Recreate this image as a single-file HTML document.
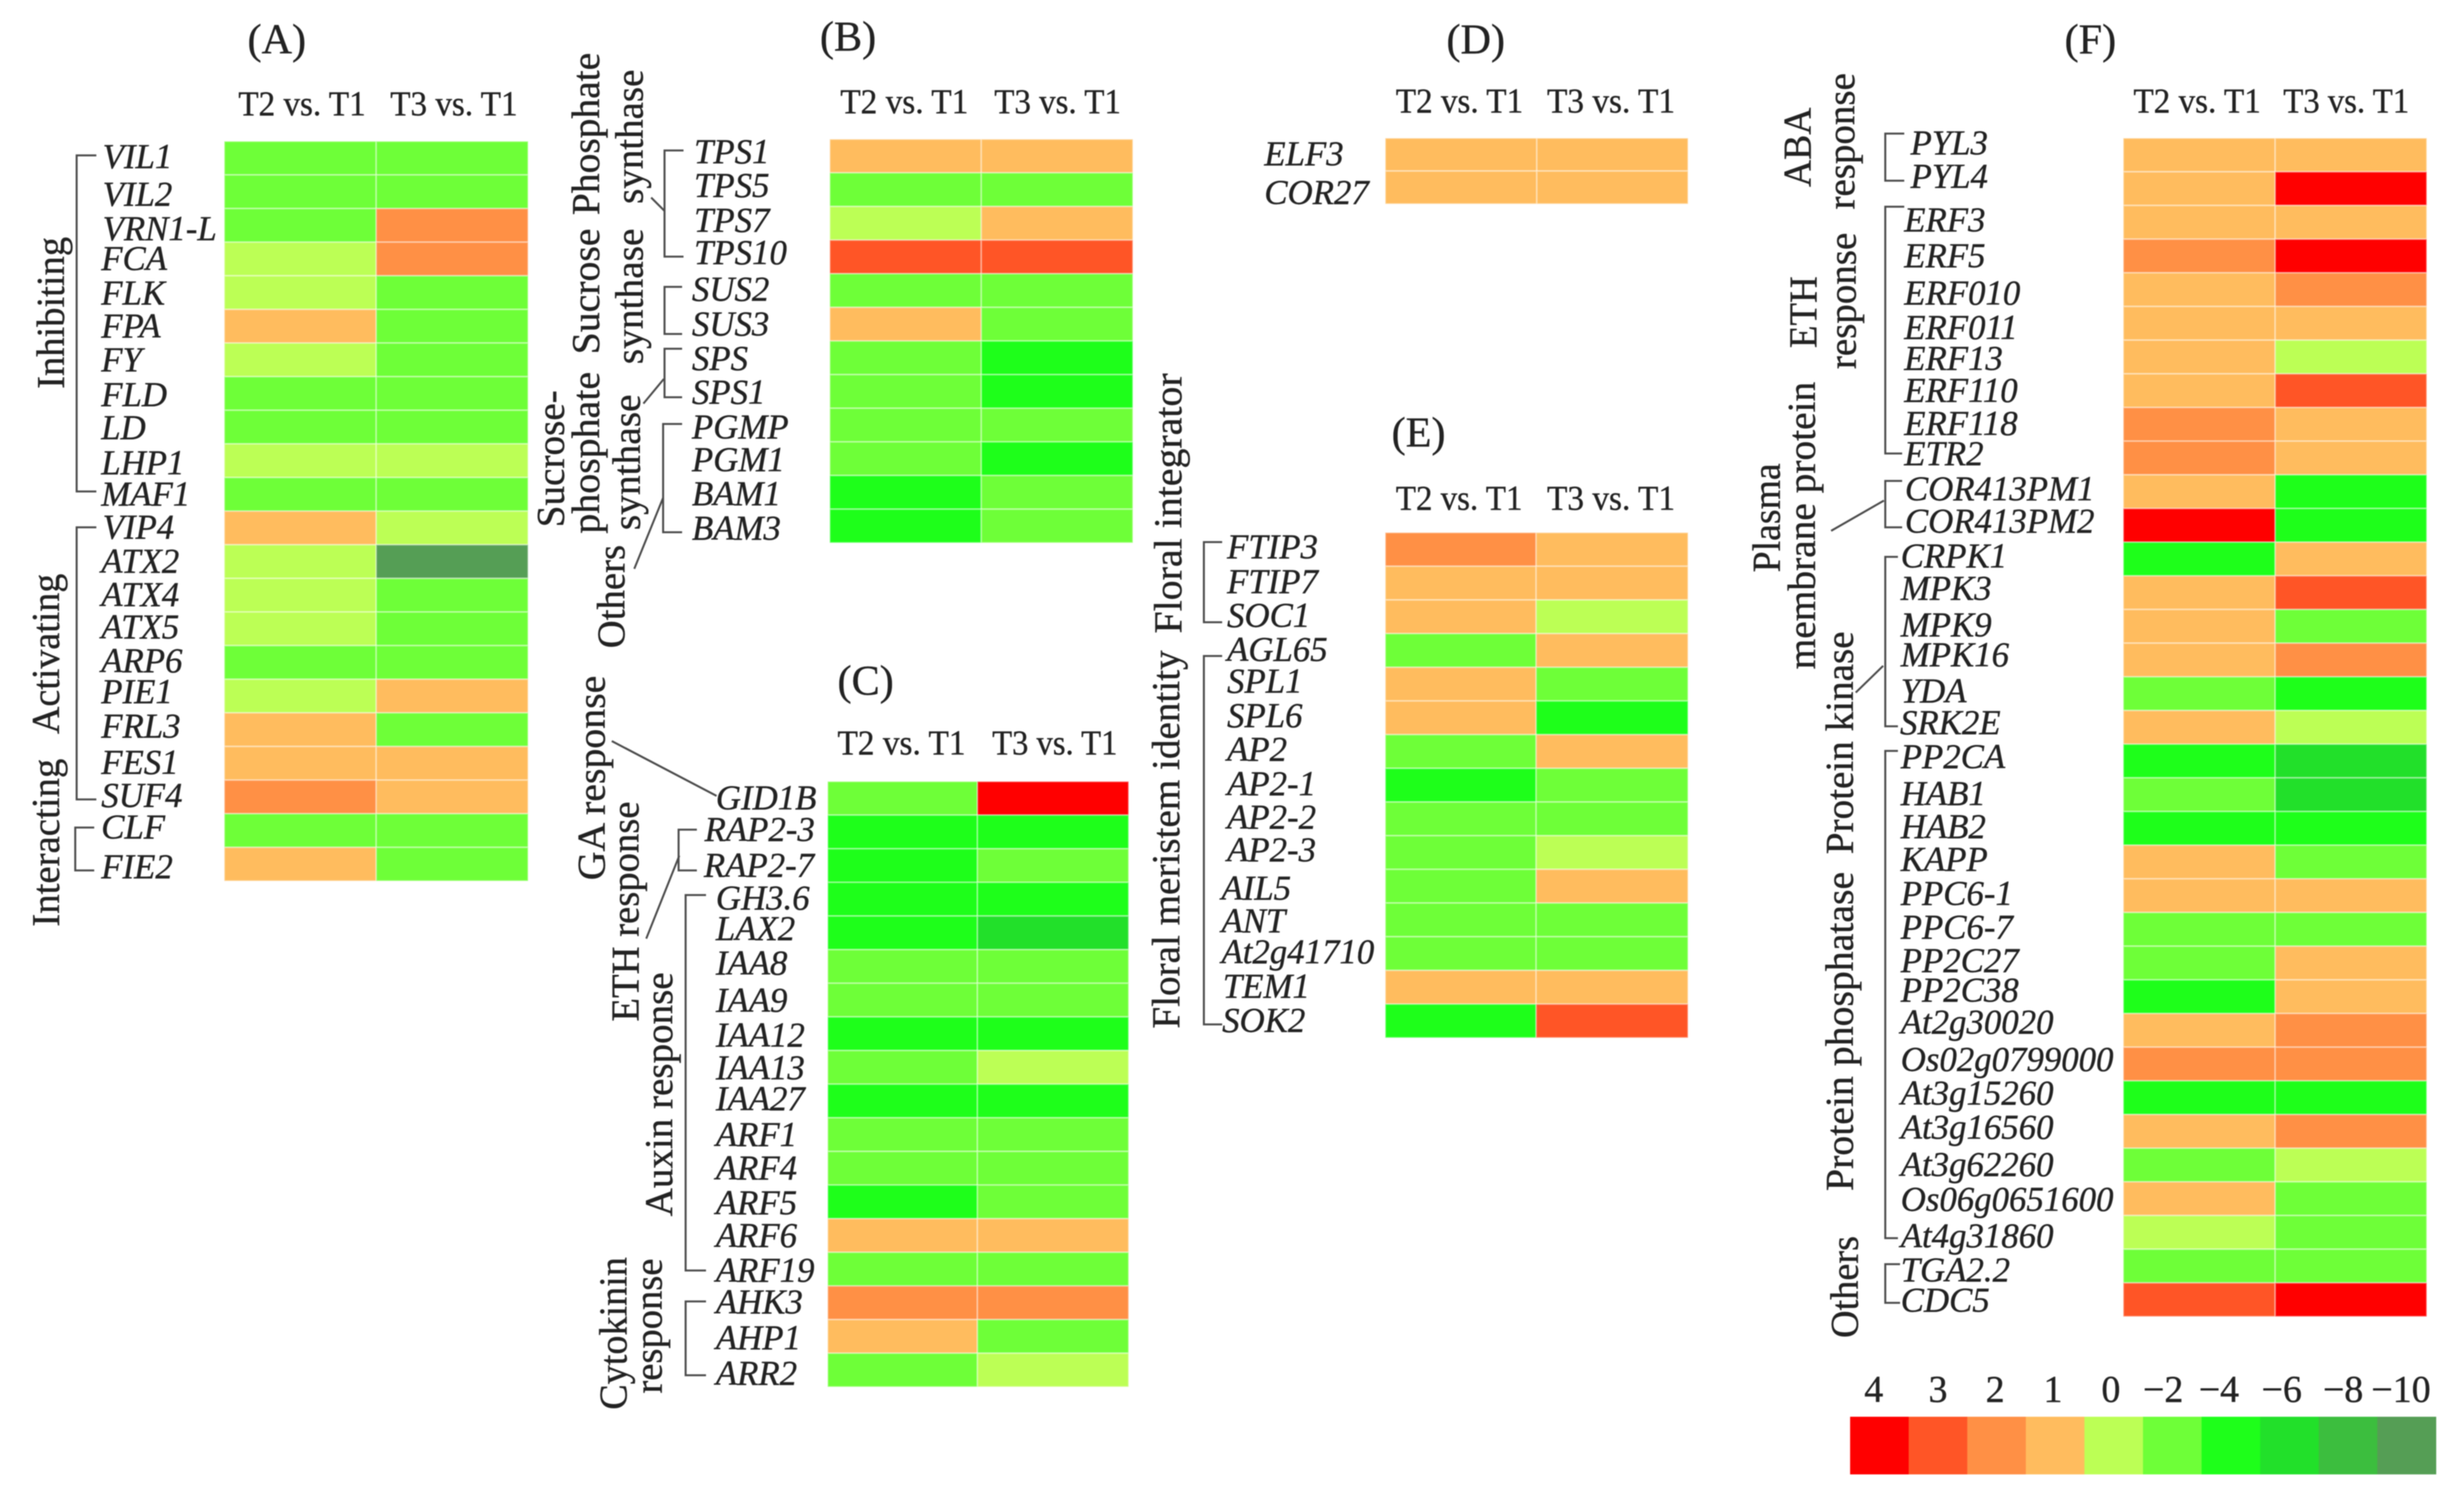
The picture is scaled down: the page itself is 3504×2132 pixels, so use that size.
<!DOCTYPE html>
<html lang="en">
<head>
<meta charset="utf-8">
<title>Differential gene expression heatmaps</title>
<style>
html,body{margin:0;padding:0;background:#fff;width:3504px;height:2132px;overflow:hidden}
svg{display:block;filter:blur(0.7px)}
text{font-family:"Liberation Serif",serif;fill:#222;stroke:#222;stroke-width:0.5px}
.panel-letter{font-size:60px}
.col-head{font-size:50px}
.cat{font-size:56px}
.gene{font-size:49.5px;font-style:italic}
.legend-label{font-size:54px;text-anchor:middle}
.br{fill:none;stroke:#4a4a4a;stroke-width:2.8}
</style>
</head>
<body>
<svg id="figure" xmlns="http://www.w3.org/2000/svg" width="3504" height="2132" viewBox="0 0 3504 2132">
<rect x="0" y="0" width="3504" height="2132" fill="#fff"/>

<g>
<text class="panel-letter" x="352" y="76">(A)</text>
<text class="panel-letter" x="1166" y="72">(B)</text>
<text class="panel-letter" x="1191" y="988">(C)</text>
<text class="panel-letter" x="2057" y="76">(D)</text>
<text class="panel-letter" x="1979" y="635">(E)</text>
<text class="panel-letter" x="2936" y="76">(F)</text>
</g>

<g>
<text class="col-head" x="339" y="164" textLength="181" lengthAdjust="spacingAndGlyphs">T2 vs. T1</text>
<text class="col-head" x="555" y="164" textLength="181" lengthAdjust="spacingAndGlyphs">T3 vs. T1</text>
<text class="col-head" x="1195" y="161" textLength="182" lengthAdjust="spacingAndGlyphs">T2 vs. T1</text>
<text class="col-head" x="1414" y="161" textLength="180" lengthAdjust="spacingAndGlyphs">T3 vs. T1</text>
<text class="col-head" x="1191" y="1073" textLength="182" lengthAdjust="spacingAndGlyphs">T2 vs. T1</text>
<text class="col-head" x="1411" y="1073" textLength="178" lengthAdjust="spacingAndGlyphs">T3 vs. T1</text>
<text class="col-head" x="1985" y="160" textLength="181" lengthAdjust="spacingAndGlyphs">T2 vs. T1</text>
<text class="col-head" x="2200" y="160" textLength="182" lengthAdjust="spacingAndGlyphs">T3 vs. T1</text>
<text class="col-head" x="1985" y="725" textLength="180" lengthAdjust="spacingAndGlyphs">T2 vs. T1</text>
<text class="col-head" x="2200" y="725" textLength="182" lengthAdjust="spacingAndGlyphs">T3 vs. T1</text>
<text class="col-head" x="3034" y="160" textLength="181" lengthAdjust="spacingAndGlyphs">T2 vs. T1</text>
<text class="col-head" x="3247" y="160" textLength="179" lengthAdjust="spacingAndGlyphs">T3 vs. T1</text>
</g>

<g>
<text class="cat" transform="translate(91,553) rotate(-90)" textLength="216" lengthAdjust="spacingAndGlyphs">Inhibiting</text>
<text class="cat" transform="translate(84,1044) rotate(-90)" textLength="228" lengthAdjust="spacingAndGlyphs">Activating</text>
<text class="cat" transform="translate(84,1318) rotate(-90)" textLength="239" lengthAdjust="spacingAndGlyphs">Interacting</text>

<text class="cat" transform="translate(852,306) rotate(-90)" textLength="231" lengthAdjust="spacingAndGlyphs">Phosphate</text>
<text class="cat" transform="translate(914,290) rotate(-90)" textLength="191" lengthAdjust="spacingAndGlyphs">synthase</text>
<text class="cat" transform="translate(852,504) rotate(-90)" textLength="179" lengthAdjust="spacingAndGlyphs">Sucrose</text>
<text class="cat" transform="translate(914,518) rotate(-90)" textLength="193" lengthAdjust="spacingAndGlyphs">synthase</text>
<text class="cat" transform="translate(802,750) rotate(-90)" textLength="195" lengthAdjust="spacingAndGlyphs">Sucrose-</text>
<text class="cat" transform="translate(852,759) rotate(-90)" textLength="230" lengthAdjust="spacingAndGlyphs">phosphate</text>
<text class="cat" transform="translate(910,754) rotate(-90)" textLength="193" lengthAdjust="spacingAndGlyphs">synthase</text>
<text class="cat" transform="translate(888,922) rotate(-90)" textLength="147" lengthAdjust="spacingAndGlyphs">Others</text>

<text class="cat" transform="translate(860,1252) rotate(-90)" textLength="291" lengthAdjust="spacingAndGlyphs">GA response</text>
<text class="cat" transform="translate(908,1453) rotate(-90)" textLength="313" lengthAdjust="spacingAndGlyphs">ETH response</text>
<text class="cat" transform="translate(956,1730) rotate(-90)" textLength="347" lengthAdjust="spacingAndGlyphs">Auxin response</text>
<text class="cat" transform="translate(891,2005) rotate(-90)" textLength="217" lengthAdjust="spacingAndGlyphs">Cytokinin</text>
<text class="cat" transform="translate(941,1982) rotate(-90)" textLength="192" lengthAdjust="spacingAndGlyphs">response</text>

<text class="cat" transform="translate(1677,1463) rotate(-90)" textLength="538" lengthAdjust="spacingAndGlyphs">Floral meristem identity</text>
<text class="cat" transform="translate(1680,901) rotate(-90)" textLength="370" lengthAdjust="spacingAndGlyphs">Floral  integrator</text>

<text class="cat" transform="translate(2575,266) rotate(-90)" textLength="113" lengthAdjust="spacingAndGlyphs">ABA</text>
<text class="cat" transform="translate(2637,298) rotate(-90)" textLength="194" lengthAdjust="spacingAndGlyphs">response</text>
<text class="cat" transform="translate(2583,495) rotate(-90)" textLength="102" lengthAdjust="spacingAndGlyphs">ETH</text>
<text class="cat" transform="translate(2639,525) rotate(-90)" textLength="194" lengthAdjust="spacingAndGlyphs">response</text>
<text class="cat" transform="translate(2531,814) rotate(-90)" textLength="155" lengthAdjust="spacingAndGlyphs">Plasma</text>
<text class="cat" transform="translate(2581,952) rotate(-90)" textLength="409" lengthAdjust="spacingAndGlyphs">membrane protein</text>
<text class="cat" transform="translate(2635,1215) rotate(-90)" textLength="317" lengthAdjust="spacingAndGlyphs">Protein kinase</text>
<text class="cat" transform="translate(2635,1694) rotate(-90)" textLength="454" lengthAdjust="spacingAndGlyphs">Protein phosphatase</text>
<text class="cat" transform="translate(2642,1903) rotate(-90)" textLength="145" lengthAdjust="spacingAndGlyphs">Others</text>
</g>

<g>
<path class="br" d="M137 221H109V699H137"/>
<path class="br" d="M137 750H109V1137H137"/>
<path class="br" d="M134 1177H107V1238H134"/>

<path class="br" d="M972 214H945V365H972"/>
<path class="br" d="M945 300L926 281"/>
<path class="br" d="M970 408H945V475H970"/>
<path class="br" d="M970 496H945V565H970"/>
<path class="br" d="M944 539L915 574"/>
<path class="br" d="M970 603H943V757H970"/>
<path class="br" d="M943 708L902 809"/>

<path class="br" d="M870 1054L1019 1132"/>
<path class="br" d="M991 1180H965V1238H991"/>
<path class="br" d="M966 1217L919 1335"/>
<path class="br" d="M1004 1273H975V1807H1004"/>
<path class="br" d="M1004 1851H975V1956H1004"/>

<path class="br" d="M1738 771H1712V885H1738"/>
<path class="br" d="M1738 933H1712V1457H1738"/>

<path class="br" d="M2708 190H2681V257H2708"/>
<path class="br" d="M2708 294H2681V645H2705"/>
<path class="br" d="M2705 684H2681V750H2705"/>
<path class="br" d="M2679 712L2604 755"/>
<path class="br" d="M2699 792H2681V1033H2699"/>
<path class="br" d="M2678 947L2639 985"/>
<path class="br" d="M2699 1068H2681V1761H2699"/>
<path class="br" d="M2702 1798H2681V1853H2702"/>
</g>

<g id="panels"></g>
<g id="legend"></g>
</svg>

<script>
// Colour scale: legend levels and printed labels
const legendLevels = [4, 3, 2, 1, 0, -2, -4, -6, -8, -10];
const legendLabels = ['4', '3', '2', '1', '0', '\u22122', '\u22124', '\u22126', '\u22128', '\u221210'];
const levelColors = ['#ff0000', '#ff5526', '#ff9045', '#ffbc5e', '#bcff55', '#6eff38', '#1eff1a', '#22e02a', '#3cbe3e', '#559e55'];

// Panel A
const genesA = ['VIL1','VIL2','VRN1-L','FCA','FLK','FPA','FY','FLD','LD','LHP1','MAF1','VIP4','ATX2','ATX4','ATX5','ARP6','PIE1','FRL3','FES1','SUF4','CLF','FIE2'];
const t2A = [-2,-2,-2,0,0,1,0,-2,-2,0,-2,1,0,0,0,-2,0,1,1,2,-2,1];
const t3A = [-2,-2,2,2,-2,-2,-2,-2,-2,0,-2,0,-10,-2,-2,-2,1,-2,1,1,-2,-2];

// Panel B
const genesB = ['TPS1','TPS5','TPS7','TPS10','SUS2','SUS3','SPS','SPS1','PGMP','PGM1','BAM1','BAM3'];
const t2B = [1,-2,0,3,-2,1,-2,-2,-2,-2,-4,-4];
const t3B = [1,-2,1,3,-2,-2,-4,-4,-2,-4,-2,-2];

// Panel C
const genesC = ['GID1B','RAP2-3','RAP2-7','GH3.6','LAX2','IAA8','IAA9','IAA12','IAA13','IAA27','ARF1','ARF4','ARF5','ARF6','ARF19','AHK3','AHP1','ARR2'];
const t2C = [-2,-4,-4,-4,-4,-2,-2,-4,-2,-4,-2,-2,-4,1,-2,2,1,-2];
const t3C = [4,-4,-2,-4,-6,-2,-2,-4,0,-4,-2,-2,-2,1,-2,2,-2,0];

// Panel D
const genesD = ['ELF3','COR27'];
const t2D = [1,1];
const t3D = [1,1];

// Panel E
const genesE = ['FTIP3','FTIP7','SOC1','AGL65','SPL1','SPL6','AP2','AP2-1','AP2-2','AP2-3','AIL5','ANT','At2g41710','TEM1','SOK2'];
const t2E = [2,1,1,-2,1,1,-2,-4,-2,-2,-2,-2,-2,1,-4];
const t3E = [1,1,0,1,-2,-4,1,-2,-2,0,1,-2,-2,1,3];

// Panel F
const genesF = ['PYL3','PYL4','ERF3','ERF5','ERF010','ERF011','ERF13','ERF110','ERF118','ETR2','COR413PM1','COR413PM2','CRPK1','MPK3','MPK9','MPK16','YDA','SRK2E','PP2CA','HAB1','HAB2','KAPP','PPC6-1','PPC6-7','PP2C27','PP2C38','At2g30020','Os02g0799000','At3g15260','At3g16560','At3g62260','Os06g0651600','At4g31860','TGA2.2','CDC5'];
const t2F = [1,1,1,2,1,1,1,1,2,2,1,4,-4,1,1,1,-2,1,-4,-2,-4,1,1,-2,-2,-4,1,2,-4,1,-2,1,0,-2,3];
const t3F = [1,4,1,4,2,1,0,3,1,1,-4,-4,1,3,-2,2,-4,0,-6,-6,-4,-2,1,-2,1,1,2,2,-4,2,0,-2,-2,-2,4];

// Layout of each panel (geometry only, no values)
const panelLayouts = [
  {id:'a', genes:genesA, t2:t2A, t3:t3A, left:319, mid:535, right:751, top:201, bottom:1253, labelX:144,
   dy:{VIL1:14,VIL2:19.7,'VRN1-L':21,FCA:15.6,FLK:17,FPA:16,FY:16,FLD:18,LD:17,LHP1:19,MAF1:16,VIP4:15,ATX2:16,ATX4:15.4,ATX5:13.6,ARP6:14,PIE1:10,FRL3:11,FES1:15,SUF4:14,CLF:11,FIE2:20}, dx:{VIL1:2,VIL2:2,'VRN1-L':2,VIP4:2}},
  {id:'b', genes:genesB, t2:t2B, t3:t3B, left:1180, mid:1395.5, right:1611, top:198, bottom:772, labelX:984,
   dy:{TPS1:10,TPS5:10,TPS7:12,TPS10:10,SUS2:14,SUS3:15.7,SPS:17,SPS1:17,PGMP:19,PGM1:17.5,BAM1:18,BAM3:19.5}, dx:{TPS1:3,TPS5:3,TPS7:3,TPS10:3}},
  {id:'c', genes:genesC, t2:t2C, t3:t3C, left:1177, mid:1390, right:1605, top:1111.5, bottom:1972.5, labelX:1018,
   dy:{GID1B:15.7,'RAP2-3':12.6,'RAP2-7':16,'GH3.6':14.5,LAX2:10,IAA8:11.3,IAA9:16.5,IAA12:18,IAA13:17,IAA27:13,ARF1:16,ARF4:16,ARF5:17.5,ARF6:16,ARF19:18,AHK3:15,AHP1:18,ARR2:21}, dx:{'RAP2-3':-16,'RAP2-7':-17}},
  {id:'d', genes:genesD, t2:t2D, t3:t3D, left:1970, mid:2185.5, right:2400.5, top:196.5, bottom:290, labelX:1798,
   dy:{ELF3:15,COR27:23.5}, dx:{}},
  {id:'e', genes:genesE, t2:t2E, t3:t3E, left:1970, mid:2184.5, right:2400.5, top:757.5, bottom:1476, labelX:1745,
   dy:{FTIP3:12.4,FTIP7:13.9,SOC1:14.4,AGL65:15,SPL1:12,SPL6:13,AP2:13,'AP2-1':14,'AP2-2':14,'AP2-3':12.5,AIL5:18.8,ANT:17.5,At2g41710:13.6,TEM1:14.9,SOK2:15.6}, dx:{AIL5:-8,ANT:-8,At2g41710:-8,TEM1:-6,SOK2:-7}},
  {id:'f', genes:genesF, t2:t2F, t3:t3F, left:3019.5, mid:3235.5, right:3451, top:196.5, bottom:1872.5, labelX:2703,
   dy:{PYL3:-1,PYL4:-1.4,ERF3:13,ERF5:16,ERF010:20.8,ERF011:22,ERF13:18,ERF110:15.8,ERF118:14.8,ETR2:10.3,COR413PM1:12.4,COR413PM2:10.4,CRPK1:11.8,MPK3:10,MPK9:14.3,MPK16:8.6,YDA:12.3,SRK2E:9.7,PP2CA:10,HAB1:14.6,HAB2:14,KAPP:12.5,'PPC6-1':13,'PPC6-7':13,PP2C27:13,PP2C38:7,At2g30020:4.3,Os02g0799000:9.4,At3g15260:10,At3g16560:10.6,At3g62260:15.7,Os06g0651600:17,At4g31860:21,'TGA2.2':22,CDC5:17},
   dx:{PYL3:14,PYL4:14,ERF3:5,ERF5:5,ERF010:5,ERF011:5,ERF13:5,ERF110:5,ERF118:5,ETR2:5,COR413PM1:6,COR413PM2:6,SRK2E:-1}}
];

const SVG_NS = 'http://www.w3.org/2000/svg';

// Value axis: nearest legend level gives the cell colour
function colorFor(value) {
  let best = 0;
  for (let i = 1; i < legendLevels.length; i++) {
    if (Math.abs(legendLevels[i] - value) < Math.abs(legendLevels[best] - value)) best = i;
  }
  return levelColors[best];
}

// Row axis: band position for row i
function rowScale(panel) {
  const step = (panel.bottom - panel.top) / panel.genes.length;
  return { step: step, y: function (i) { return panel.top + i * step; } };
}

function drawCell(group, panel, col, i, value, gene) {
  const rows = rowScale(panel);
  const x0 = col === 0 ? panel.left : panel.mid;
  const x1 = col === 0 ? panel.mid : panel.right;
  const r = document.createElementNS(SVG_NS, 'rect');
  
  
  r.setAttribute('x', x0);
  r.setAttribute('y', rows.y(i));
  r.setAttribute('width', x1 - x0);
  r.setAttribute('height', rows.step);
  r.setAttribute('fill', colorFor(value));
  r.setAttribute('stroke', 'rgba(255,255,255,0.4)');
  r.setAttribute('stroke-width', '2.2');
  group.appendChild(r);
}

function drawPanel(panel) {
  const rows = rowScale(panel);
  const g = document.createElementNS(SVG_NS, 'g');
  
  
  panel.genes.forEach(function (gene, i) {
    drawCell(g, panel, 0, i, panel.t2[i], gene);
    drawCell(g, panel, 1, i, panel.t3[i], gene);
    const t = document.createElementNS(SVG_NS, 'text');
    
    
    t.setAttribute('class', 'gene');
    t.setAttribute('x', panel.labelX + (panel.dx[gene] || 0));
    t.setAttribute('y', rows.y(i) + rows.step / 2 + (panel.dy[gene] || 15));
    t.textContent = gene;
    g.appendChild(t);
  });
  document.getElementById('panels').appendChild(g);
}

panelLayouts.forEach(drawPanel);

// Legend
const legendLeft = 2631, legendRight = 3464, legendTop = 2015, legendBottom = 2097, legendBaseline = 1994;
const legendLabelNudge = {'4':-8,'3':0,'2':-2,'1':-3,'0':-4,'\u22122':-13,'\u22124':-17,'\u22126':-11,'\u22128':-7,'\u221210':-8};
function legendX(i) {
  return legendLeft + i * (legendRight - legendLeft) / legendLevels.length;
}
const legendGroup = document.getElementById('legend');
legendLevels.forEach(function (level, i) {
  const sw = document.createElementNS(SVG_NS, 'rect');
  
  
  sw.setAttribute('x', legendX(i));
  sw.setAttribute('y', legendTop);
  sw.setAttribute('width', legendX(i + 1) - legendX(i) + 0.5);
  sw.setAttribute('height', legendBottom - legendTop);
  sw.setAttribute('fill', colorFor(level));
  legendGroup.appendChild(sw);
  const lab = document.createElementNS(SVG_NS, 'text');
  
  
  lab.setAttribute('class', 'legend-label');
  lab.setAttribute('x', (legendX(i) + legendX(i + 1)) / 2 + legendLabelNudge[legendLabels[i]]);
  lab.setAttribute('y', legendBaseline);
  lab.textContent = legendLabels[i];
  legendGroup.appendChild(lab);
});
</script>
</body>
</html>
